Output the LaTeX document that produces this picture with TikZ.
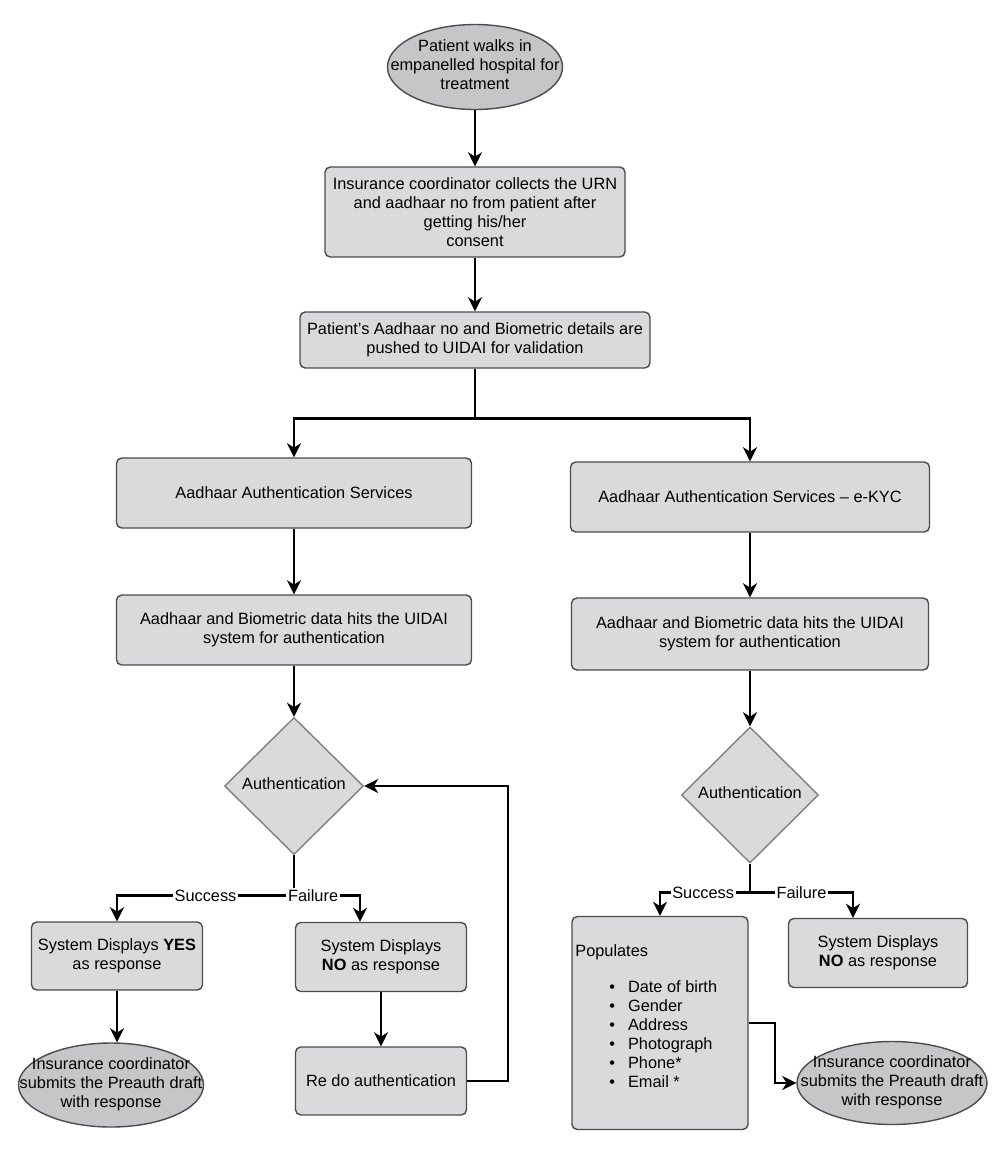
\documentclass[tikz,border=0pt]{standalone}
\usepackage{fontspec}
\setmainfont{Liberation Sans}
\usetikzlibrary{shapes.geometric, arrows.meta, positioning}

\definecolor{boxgray}{RGB}{218,218,221}
\definecolor{ovalgray}{RGB}{198,198,201}

% text that does not widen its shape
\newcommand{\zw}[1]{\makebox[0pt]{\begin{tabular}{@{}c@{}}#1\end{tabular}}}

\begin{document}
\begin{tikzpicture}[>={Stealth[length=8pt,width=8pt,inset=2.5pt]},
    font=\fontsize{9.3}{10.8}\selectfont,
    box/.style={draw=black!70, line width=0.8pt, rectangle, rounded corners=3pt, fill=boxgray, align=center, inner sep=2pt},
    oval/.style={draw=black!70, line width=0.8pt, ellipse, fill=ovalgray, inner sep=0pt},
    decide/.style={draw=black!50, line width=0.8pt, diamond, fill=boxgray, inner sep=0pt},
    flow/.style={->, line width=1.4pt},
    wire/.style={line width=1.4pt},
    tag/.style={fill=white, inner sep=1pt}]
    \useasboundingbox (0,0) rectangle (20,-23.06);

    % Intake
    \node [oval, minimum width=3.5cm, minimum height=1.7cm] (start) at (9.5,-1.34) {\zw{Patient walks in\\empanelled hospital for\\treatment}};
    \node [box, minimum width=6cm, minimum height=1.8cm] (collect) at (9.5,-4.24) {Insurance coordinator collects the URN\\and aadhaar no from patient after\\getting his/her\\consent};
    \node [box, minimum width=7cm, minimum height=1.12cm] (push) at (9.5,-6.8) {Patient's Aadhaar no and Biometric details are\\pushed to UIDAI for validation};

    % Left column: authentication
    \node [box, minimum width=7.1cm, minimum height=1.4cm] (authL) at (5.88,-9.86) {Aadhaar Authentication Services};
    \node [box, minimum width=7.1cm, minimum height=1.4cm] (hitL) at (5.88,-12.6) {Aadhaar and Biometric data hits the UIDAI\\system for authentication};
    \node [decide, minimum width=2.78cm, minimum height=2.74cm] (decL) at (5.88,-15.72) {\zw{Authentication}};

    % Right column: e-KYC
    \node [box, minimum width=7.18cm, minimum height=1.4cm] (authR) at (15.0,-9.94) {Aadhaar Authentication Services -- e-KYC};
    \node [box, minimum width=7.14cm, minimum height=1.44cm] (hitR) at (15.0,-12.68) {Aadhaar and Biometric data hits the UIDAI\\system for authentication};
    \node [decide, minimum width=2.74cm, minimum height=2.72cm] (decR) at (15.0,-15.9) {\zw{Authentication}};

    % Left outcomes
    \node [box, minimum width=3.42cm, minimum height=1.36cm] (yesL) at (2.34,-19.12) {System Displays \textbf{YES}\\as response};
    \node [box, minimum width=3.42cm, minimum height=1.38cm] (noL) at (7.62,-19.14) {System Displays\\\textbf{NO} as response};
    \node [oval, minimum width=3.7cm, minimum height=1.68cm] (doneL) at (2.22,-21.7) {\zw{Insurance coordinator\\submits the Preauth draft\\with response}};
    \node [box, minimum width=3.42cm, minimum height=1.36cm] (redo) at (7.62,-21.62) {Re do authentication};

    % Right outcomes
    \node [box, minimum width=3.52cm, minimum height=4.26cm] (pop) at (13.2,-20.46) {};
    \node [anchor=north west, inner sep=0pt, align=left] (poptext) at (11.5,-18.86) {\begin{tabular}{@{}l@{}}
        Populates\\[9.6pt]
        \hspace*{0.68cm}\textbullet\hspace{0.26cm}Date of birth\\
        \hspace*{0.68cm}\textbullet\hspace{0.26cm}Gender\\
        \hspace*{0.68cm}\textbullet\hspace{0.26cm}Address\\
        \hspace*{0.68cm}\textbullet\hspace{0.26cm}Photograph\\
        \hspace*{0.68cm}\textbullet\hspace{0.26cm}Phone*\\
        \hspace*{0.68cm}\textbullet\hspace{0.26cm}Email *
    \end{tabular}};
    \node [box, minimum width=3.58cm, minimum height=1.38cm] (noR) at (17.56,-19.06) {System Displays\\\textbf{NO} as response};
    \node [oval, minimum width=3.8cm, minimum height=1.66cm] (doneR) at (17.84,-21.66) {\zw{Insurance coordinator\\submits the Preauth draft\\with response}};

    % Connections: intake
    \draw [flow] (start.south) -- (collect.north);
    \draw [flow] (collect.south) -- (push.north);
    \coordinate (split) at ([yshift=-1cm]push.south);
    \draw [wire] (push.south) -- (split);
    \draw [flow] (split) -| (authL.north);
    \draw [flow] (split) -| (authR.north);

    % Connections: columns
    \draw [flow] (authL.south) -- (hitL.north);
    \draw [flow] (hitL.south) -- (decL.north);
    \draw [flow] (authR.south) -- (hitR.north);
    \draw [flow] (hitR.south) -- (decR.north);

    % Connections: left decision
    \coordinate (brL) at ([yshift=-0.81cm]decL.south);
    \coordinate (failL) at (7.2,-17.9);
    \draw [wire] (decL.south) -- (brL);
    \draw [flow] (brL) -| node [tag, pos=0.25] {Success} (yesL.north);
    \draw [flow] (brL) -| node [tag, pos=0.145] {Failure} (noL.north -| failL);
    \draw [flow] (yesL.south) -- (yesL.south |- doneL.north);
    \draw [flow] (noL.south) -- (redo.north);
    \coordinate (loop) at (10.16,-21.62);
    \draw [flow] (redo.east) -- (loop) |- (decL.east);

    % Connections: right decision
    \coordinate (brR) at ([yshift=-0.58cm]decR.south);
    \coordinate (failR) at (17.06,-17.84);
    \draw [wire] (decR.south) -- (brR);
    \draw [flow] (brR) -| node [tag, pos=0.26] {Success} (pop.north);
    \draw [flow] (brR) -| node [tag, pos=0.25] {Failure} (noR.north -| failR);
    \coordinate (bend) at (15.5,-20.46);
    \draw [flow] (pop.east) -- (bend) |- (doneR.west);
\end{tikzpicture}
\end{document}
